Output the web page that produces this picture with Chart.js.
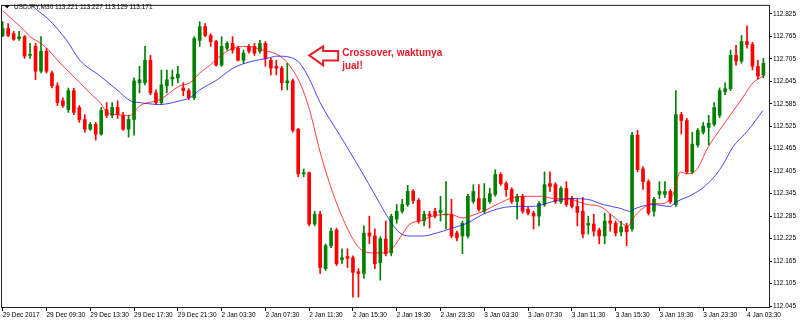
<!DOCTYPE html>
<html>
<head>
<meta charset="utf-8">
<script src="https://cdn.jsdelivr.net/npm/chart.js@4.4.0/dist/chart.umd.min.js"></script>
<style>
  html, body { margin: 0; padding: 0; background: #fff; }
</style>
</head>
<body>
<canvas id="chart" width="800" height="322"></canvas>
<script>
// chart header and annotation text
const title = 'USDJPY,M30 113.221 113.227 113.129 113.171';
const note = ['Crossover, waktunya', 'jual!'];
const noteAt = { x: 56, y: 112.714 };   // where the arrow points

// time axis: one label every 8 bars (M30)
const xTickIdx = [0, 8, 16, 24, 32, 40, 48, 56, 64, 72, 80, 88, 96, 104, 112, 120, 128, 136];
const xLabels = ['29 Dec 2017', '29 Dec 09:30', '29 Dec 13:30', '29 Dec 17:30', '29 Dec 21:30',
  '2 Jan 03:30', '2 Jan 07:30', '2 Jan 11:30', '2 Jan 15:30', '2 Jan 19:30', '2 Jan 23:30',
  '3 Jan 03:30', '3 Jan 07:30', '3 Jan 11:30', '3 Jan 15:30', '3 Jan 19:30', '3 Jan 23:30', '4 Jan 03:30'];

// price axis
const yTicks = [112.045, 112.105, 112.165, 112.225, 112.285, 112.345, 112.405,
  112.465, 112.525, 112.585, 112.645, 112.705, 112.765, 112.825];

// candles
const open = [
  112.767, 112.786, 112.772, 112.759, 112.764, 112.714, 112.738, 112.672, 112.725, 112.667,
  112.633, 112.593, 112.569, 112.620, 112.575, 112.543, 112.517, 112.530, 112.504, 112.569,
  112.554, 112.575, 112.554, 112.517, 112.543, 112.641, 112.641, 112.701, 112.614, 112.588,
  112.633, 112.651, 112.654, 112.627, 112.620, 112.601, 112.754, 112.791, 112.767, 112.751,
  112.688, 112.733, 112.746, 112.733, 112.701, 112.738, 112.738, 112.725, 112.746, 112.701,
  112.685, 112.680, 112.641, 112.646, 112.517, 112.398, 112.401, 112.264, 112.290, 112.145,
  112.206, 112.248, 112.169, 112.177, 112.174, 112.137, 112.132, 112.240, 112.232, 112.161,
  112.224, 112.187, 112.277, 112.298, 112.316, 112.351, 112.327, 112.272, 112.290, 112.298,
  112.295, 112.288, 112.290, 112.240, 112.232, 112.232, 112.324, 112.332, 112.298, 112.324,
  112.343, 112.396, 112.372, 112.356, 112.324, 112.338, 112.303, 112.293, 112.285, 112.316,
  112.372, 112.369, 112.324, 112.359, 112.332, 112.311, 112.298, 112.261, 112.264, 112.248,
  112.232, 112.272, 112.266, 112.243, 112.259, 112.251, 112.501, 112.411, 112.377, 112.298,
  112.343, 112.343, 112.351, 112.316, 112.556, 112.540, 112.403, 112.475, 112.509, 112.522,
  112.530, 112.554, 112.617, 112.625, 112.714, 112.699, 112.751, 112.743, 112.685, 112.662];
const high = [
  112.804, 112.799, 112.778, 112.778, 112.767, 112.746, 112.746, 112.764, 112.733, 112.672,
  112.641, 112.601, 112.627, 112.627, 112.580, 112.556, 112.535, 112.535, 112.575, 112.588,
  112.588, 112.593, 112.562, 112.554, 112.654, 112.685, 112.738, 112.714, 112.622, 112.675,
  112.675, 112.675, 112.685, 112.641, 112.625, 112.764, 112.804, 112.799, 112.772, 112.754,
  112.764, 112.751, 112.764, 112.738, 112.728, 112.743, 112.746, 112.754, 112.751, 112.706,
  112.701, 112.685, 112.693, 112.651, 112.519, 112.411, 112.403, 112.298, 112.298, 112.211,
  112.253, 112.253, 112.198, 112.198, 112.179, 112.145, 112.259, 112.285, 112.251, 112.230,
  112.272, 112.290, 112.316, 112.330, 112.367, 112.356, 112.332, 112.298, 112.298, 112.306,
  112.338, 112.377, 112.330, 112.245, 112.272, 112.343, 112.369, 112.369, 112.372, 112.359,
  112.409, 112.401, 112.377, 112.361, 112.343, 112.343, 112.309, 112.298, 112.324, 112.403,
  112.403, 112.374, 112.364, 112.377, 112.338, 112.330, 112.335, 112.285, 112.290, 112.253,
  112.293, 112.290, 112.272, 112.272, 112.266, 112.509, 112.514, 112.417, 112.382, 112.335,
  112.377, 112.377, 112.356, 112.620, 112.562, 112.546, 112.509, 112.519, 112.535, 112.554,
  112.588, 112.627, 112.641, 112.728, 112.741, 112.767, 112.793, 112.749, 112.701, 112.706];
const low = [
  112.764, 112.764, 112.754, 112.754, 112.706, 112.706, 112.649, 112.667, 112.667, 112.627,
  112.580, 112.575, 112.562, 112.556, 112.535, 112.509, 112.514, 112.488, 112.501, 112.548,
  112.548, 112.546, 112.514, 112.496, 112.501, 112.614, 112.635, 112.609, 112.583, 112.583,
  112.614, 112.633, 112.641, 112.606, 112.596, 112.596, 112.738, 112.764, 112.738, 112.685,
  112.685, 112.728, 112.720, 112.699, 112.693, 112.720, 112.714, 112.720, 112.685, 112.662,
  112.662, 112.622, 112.622, 112.509, 112.390, 112.390, 112.259, 112.259, 112.132, 112.140,
  112.201, 112.153, 112.158, 112.148, 112.069, 112.069, 112.119, 112.211, 112.145, 112.114,
  112.179, 112.179, 112.266, 112.293, 112.311, 112.319, 112.266, 112.259, 112.253, 112.280,
  112.272, 112.251, 112.227, 112.219, 112.185, 112.227, 112.319, 112.298, 112.293, 112.319,
  112.338, 112.367, 112.338, 112.319, 112.277, 112.293, 112.288, 112.251, 112.259, 112.311,
  112.351, 112.319, 112.319, 112.311, 112.306, 112.259, 112.227, 112.237, 112.232, 112.211,
  112.211, 112.245, 112.232, 112.232, 112.206, 112.245, 112.403, 112.356, 112.288, 112.285,
  112.332, 112.335, 112.319, 112.311, 112.504, 112.398, 112.398, 112.469, 112.504, 112.475,
  112.525, 112.548, 112.609, 112.620, 112.688, 112.693, 112.733, 112.675, 112.651, 112.654];
const close = [
  112.786, 112.767, 112.757, 112.764, 112.712, 112.717, 112.672, 112.725, 112.672, 112.633,
  112.588, 112.580, 112.620, 112.562, 112.543, 112.517, 112.530, 112.504, 112.567, 112.554,
  112.575, 112.556, 112.517, 112.543, 112.646, 112.649, 112.701, 112.614, 112.588, 112.635,
  112.649, 112.656, 112.664, 112.620, 112.601, 112.759, 112.791, 112.767, 112.751, 112.688,
  112.738, 112.746, 112.728, 112.701, 112.720, 112.725, 112.720, 112.746, 112.706, 112.680,
  112.680, 112.641, 112.646, 112.514, 112.398, 112.401, 112.264, 112.290, 112.148, 112.206,
  112.245, 112.158, 112.174, 112.172, 112.135, 112.132, 112.240, 112.232, 112.158, 112.224,
  112.185, 112.285, 112.298, 112.316, 112.351, 112.327, 112.272, 112.290, 112.285, 112.285,
  112.301, 112.290, 112.232, 112.227, 112.266, 112.338, 112.351, 112.303, 112.332, 112.345,
  112.396, 112.372, 112.356, 112.324, 112.338, 112.298, 112.293, 112.285, 112.319, 112.369,
  112.364, 112.324, 112.359, 112.316, 112.311, 112.295, 112.237, 112.266, 112.245, 112.232,
  112.272, 112.266, 112.240, 112.256, 112.243, 112.501, 112.409, 112.377, 112.293, 112.330,
  112.351, 112.351, 112.324, 112.556, 112.540, 112.403, 112.477, 112.514, 112.525, 112.533,
  112.575, 112.620, 112.625, 112.714, 112.699, 112.751, 112.743, 112.685, 112.659, 112.693];

// moving averages (bar index, price)
const redIdx = [0, 2, 4, 5, 7, 8.6, 10.5, 12.3, 14.1, 15.9, 17.8, 19.1, 20.9, 22.4, 23.3, 25.1,
  28.7, 32.4, 34.2, 36, 37.9, 39.7, 42.1, 44.6, 47.6, 50.7, 52.5, 54.3, 56.1, 58, 59.8, 61.6,
  63.5, 65.3, 67.7, 69.5, 70.8, 72.6, 74.4, 76.3, 78.6, 81.7, 84.1, 85.4, 87.8, 90.3, 92.7,
  95.8, 98.7, 100.5, 103.6, 106.8, 109.1, 111.5, 113.3, 114.3, 115.2, 117, 118.8, 120.1,
  122.5, 123.8, 125, 126.9, 128.7, 131.1, 132.9, 135.2, 137.1, 138.4, 139.3];
const redVal = [112.833, 112.807, 112.780, 112.764, 112.746, 112.725, 112.693, 112.667, 112.641,
  112.614, 112.588, 112.562, 112.556, 112.554, 112.554, 112.580, 112.596, 112.633, 112.641,
  112.667, 112.688, 112.712, 112.733, 112.738, 112.728, 112.712, 112.685, 112.641, 112.567,
  112.456, 112.369, 112.298, 112.237, 112.198, 112.187, 112.187, 112.193, 112.227, 112.264,
  112.272, 112.285, 112.290, 112.280, 112.285, 112.298, 112.316, 112.332, 112.338, 112.338,
  112.332, 112.330, 112.316, 112.311, 112.285, 112.264, 112.259, 112.280, 112.306, 112.319,
  112.318, 112.343, 112.403, 112.398, 112.411, 112.464, 112.517, 112.554, 112.601, 112.641,
  112.654, 112.662];
const blueIdx = [4, 5.4, 8.6, 11.7, 14.1, 17.8, 20.9, 23.3, 25.1, 28.7, 32.4, 34.2, 36, 39.2,
  42.1, 45.7, 48.3, 50.1, 52.5, 54.3, 56.1, 58, 61.6, 65.3, 68.4, 70.8, 72.6, 74.4, 76.8, 79.3,
  81.7, 84.8, 87.8, 90.9, 94, 96.9, 98.7, 100.5, 103.6, 106.8, 109.7, 112.8, 114.6, 115.2,
  118.8, 121.9, 123.2, 126.1, 129.2, 131.6, 133.4, 136.2, 138.9];
const blueVal = [112.866, 112.846, 112.807, 112.754, 112.701, 112.659, 112.622, 112.593, 112.588,
  112.583, 112.593, 112.601, 112.622, 112.649, 112.680, 112.699, 112.706, 112.712, 112.709,
  112.693, 112.649, 112.588, 112.501, 112.411, 112.332, 112.272, 112.240, 112.232, 112.232,
  112.240, 112.251, 112.266, 112.290, 112.306, 112.311, 112.311, 112.316, 112.324, 112.332,
  112.330, 112.316, 112.306, 112.298, 112.303, 112.316, 112.311, 112.324, 112.343, 112.377,
  112.422, 112.469, 112.514, 112.567];

const upColor = '#008000';
const downColor = '#ff0000';
const noteColor = '#ea1c2a';
const font = 'Tahoma, "Liberation Sans", Arial, sans-serif';

const candleColors = close.map((c, i) => c >= open[i] ? upColor : downColor);
const wicks = open.map((o, i) => ({ x: i, y: [low[i], high[i]] }));
const bodies = open.map((o, i) => ({ x: i, y: [o, close[i]] }));

// frame, header and the arrow note
const overlay = {
  id: 'overlay',
  afterDraw(chart) {
    const { ctx, chartArea: a, scales } = chart;
    ctx.save();
    ctx.strokeStyle = '#222';
    ctx.lineWidth = 1;
    ctx.strokeRect(a.left + 0.5, a.top + 0.5, a.right - a.left, a.bottom - a.top);

    ctx.fillStyle = '#000';
    ctx.beginPath();
    ctx.moveTo(4, 5); ctx.lineTo(10, 5); ctx.lineTo(7, 8.5); ctx.closePath();
    ctx.fill();
    ctx.font = '6.5px ' + font;
    ctx.textBaseline = 'middle';
    ctx.fillText(title, 14, 7);

    const tx = scales.x.getPixelForValue(noteAt.x);
    const ty = scales.y.getPixelForValue(noteAt.y);
    ctx.strokeStyle = noteColor;
    ctx.lineWidth = 2;
    ctx.beginPath();
    ctx.moveTo(tx, ty);
    ctx.lineTo(tx + 14, ty - 9);
    ctx.lineTo(tx + 14, ty - 4.5);
    ctx.lineTo(tx + 29, ty - 4.5);
    ctx.lineTo(tx + 29, ty + 5);
    ctx.lineTo(tx + 14, ty + 5);
    ctx.lineTo(tx + 14, ty + 10);
    ctx.closePath();
    ctx.stroke();

    ctx.fillStyle = noteColor;
    ctx.font = 'bold 10px ' + font;
    ctx.fillText(note[0], tx + 33, ty - 2);
    ctx.fillText(note[1], tx + 33, ty + 11);
    ctx.restore();
  }
};

new Chart(document.getElementById('chart'), {
  type: 'bar',
  data: {
    datasets: [
      {
        type: 'line', data: redIdx.map((x, k) => ({ x: x, y: redVal[k] })),
        borderColor: 'rgba(255,0,0,0.75)', borderWidth: 1, pointRadius: 0,
        cubicInterpolationMode: 'monotone', order: 0
      },
      {
        type: 'line', data: blueIdx.map((x, k) => ({ x: x, y: blueVal[k] })),
        borderColor: 'rgba(0,0,255,0.72)', borderWidth: 1, pointRadius: 0,
        cubicInterpolationMode: 'monotone', order: 0
      },
      {
        data: wicks, backgroundColor: candleColors, barThickness: 1,
        grouped: false, order: 2
      },
      {
        data: bodies, backgroundColor: candleColors, barThickness: 3,
        grouped: false, minBarLength: 1, order: 1
      }
    ]
  },
  options: {
    responsive: false,
    animation: false,
    devicePixelRatio: 1,
    events: [],
    layout: { padding: { left: 1, top: 1, right: 0, bottom: 0 } },
    plugins: { legend: { display: false }, tooltip: { enabled: false } },
    scales: {
      x: {
        type: 'linear', min: -0.31, max: 140.02, offset: false,
        afterBuildTicks: s => { s.ticks = xTickIdx.map(v => ({ value: v })); },
        afterFit: s => { s.height = 15; },
        ticks: {
          callback: v => xLabels[xTickIdx.indexOf(v)],
          autoSkip: false, maxRotation: 0, align: 'start', padding: 0,
          color: '#000', font: { family: font, size: 6.5 }
        },
        grid: { drawOnChartArea: false, offset: false, tickLength: 4, color: '#000' },
        border: { display: false }
      },
      y: {
        type: 'linear', position: 'right', min: 112.0425, max: 112.8488,
        afterBuildTicks: s => { s.ticks = yTicks.map(v => ({ value: v })); },
        afterFit: s => { s.width = 31; },
        ticks: {
          callback: v => v.toFixed(3), padding: 1,
          color: '#000', font: { family: font, size: 6.5 }
        },
        grid: { drawOnChartArea: false, tickLength: 3, color: '#000' },
        border: { display: false }
      }
    }
  },
  plugins: [overlay]
});
</script>
</body>
</html>
